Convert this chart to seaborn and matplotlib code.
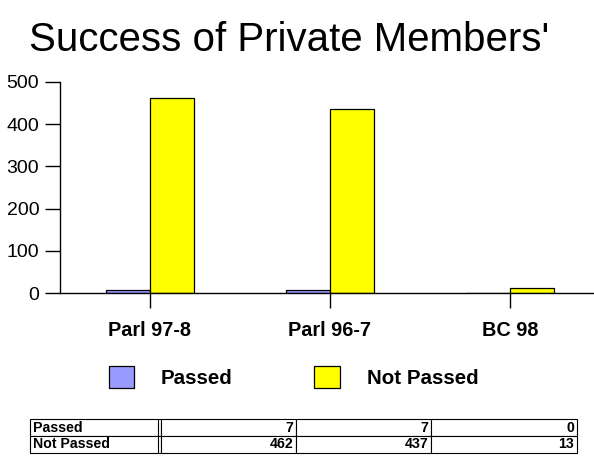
import pandas as pd
import seaborn as sns
import matplotlib.pyplot as plt
from matplotlib.patches import Patch

# Chart values.
categories = ["Parl 97-8", "Parl 96-7", "BC 98"]
series_names = ["Passed", "Not Passed"]
passed = [7, 7, 0]
not_passed = [462, 437, 13]
y_ticks = [0, 100, 200, 300, 400, 500]
colours = ["#9b9bff", "#ffff00"]

# Long-form frame for seaborn.
df = pd.DataFrame({
    "session": categories * 2,
    "count": passed + not_passed,
    "status": [series_names[0]] * 3 + [series_names[1]] * 3,
})

sns.set_style("white")
plt.rcParams['font.family'] = ['Liberation Sans', 'DejaVu Sans']
plt.rcParams['text.color'] = "black"
plt.rcParams['xtick.color'] = "black"
plt.rcParams['ytick.color'] = "black"

fig = plt.figure(figsize=(5.94, 4.57), dpi=100)
W, H = 594, 457

# Plot area: y axis at x=60, zero line at y=293, 500 at y=82.
ax = fig.add_axes([60 / W, (H - 293) / H, 540 / W, 211 / H])
sns.barplot(data=df, x="session", y="count", hue="status", palette=colours,
            edgecolor="black", linewidth=0.9, width=0.49, saturation=1,
            ax=ax, legend=False)

ax.set_xlim(-0.5, 2.5)
ax.set_ylim(0, 500)
ax.set_yticks(y_ticks)
ax.set_yticklabels([str(t) for t in y_ticks], fontsize=14)
ax.set_xticks(range(len(categories)))
ax.set_xticklabels(categories, fontsize=14.3, fontweight="bold")
ax.tick_params(axis="both", direction="out", length=11, width=1, color="black",
               bottom=True, left=True)
ax.tick_params(axis="x", pad=9)
ax.tick_params(axis="y", pad=4)
ax.set_xlabel("")
ax.set_ylabel("")
ax.spines['top'].set_visible(False)
ax.spines['right'].set_visible(False)
for s in ["left", "bottom"]:
    ax.spines[s].set_color("black")
    ax.spines[s].set_linewidth(1)

fig.text(289 / W, 1 - 40 / H, "Success of Private Members'", fontsize=29,
         ha="center", va="center")

# Legend below the plot.
handles = [Patch(facecolor=c, edgecolor="black", linewidth=0.9) for c in colours]
fig.legend(handles, series_names, loc="center left",
           bbox_to_anchor=(90 / W, 1 - 377 / H), ncol=2, frameon=False,
           prop={"size": 14.8, "weight": "bold"}, handlelength=1.26,
           handleheight=1.26, handletextpad=1.3, columnspacing=3.95)

# Data table at the bottom.
tax = fig.add_axes([30 / W, (H - 453) / H, 547 / W, 34 / H])
tax.axis("off")
cell_text = [[series_names[0]] + [str(v) for v in passed],
             [series_names[1]] + [str(v) for v in not_passed]]
col_w = [131, 135, 135, 146]
tbl = tax.table(cellText=cell_text, colWidths=[w / sum(col_w) for w in col_w],
                bbox=[0, 0, 1, 1], cellLoc="right")
tbl.auto_set_font_size(False)
for (r, c), cell in tbl.get_celld().items():
    cell.set_linewidth(0.8)
    cell.get_text().set_fontsize(10.2)
    cell.get_text().set_fontweight("bold")
    if c == 0:
        cell.get_text().set_ha("left")
    cell.PAD = 0.02
# double line after the label column
tax.axvline(128 / 547, color="black", linewidth=0.8)

fig.savefig("out.png", dpi=100)
